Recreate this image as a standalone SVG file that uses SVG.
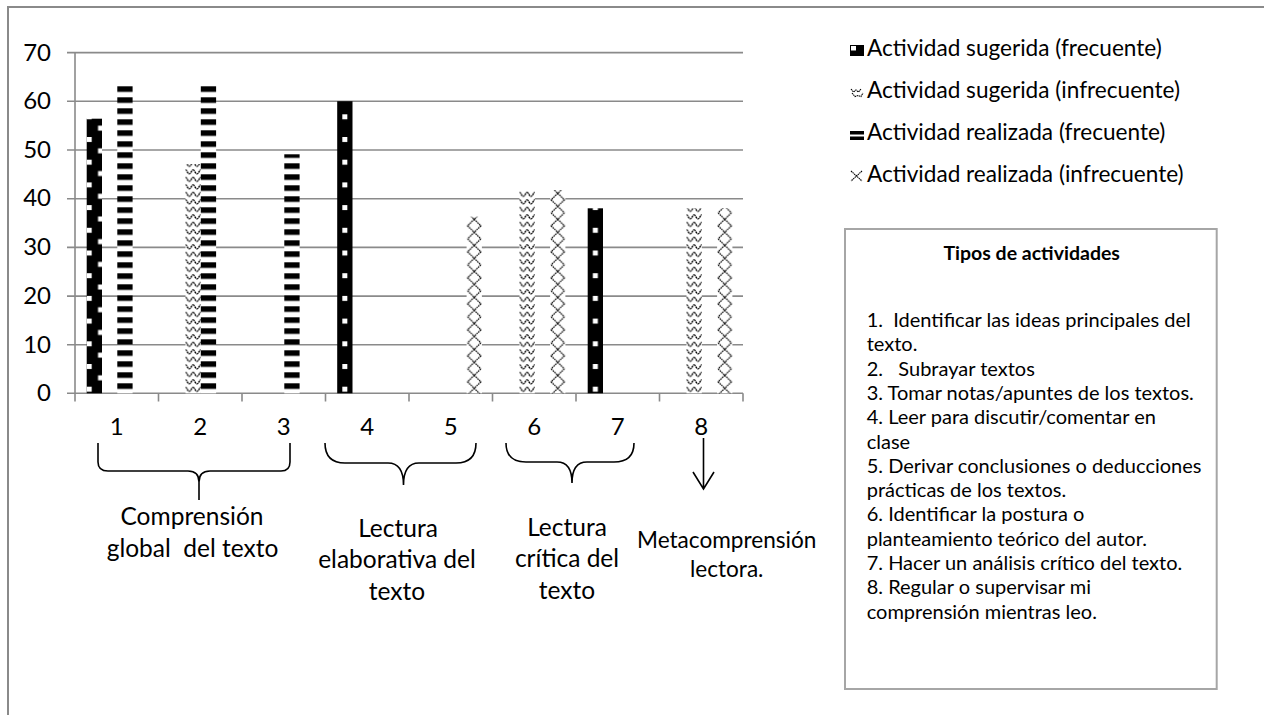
<svg xmlns="http://www.w3.org/2000/svg" width="1264" height="715" viewBox="0 0 1264 715">
<style>
text{font-family:Lato,"Liberation Sans",sans-serif;fill:#000}
.ax{font-size:24px}
.cat{font-size:24px;text-anchor:middle}
.grp{font-size:24.5px;text-anchor:middle}
.leg{font-size:22.6px}
.box{font-size:20px;white-space:pre}
.ttl{font-size:19.5px;font-weight:bold;text-anchor:middle}
.grid{stroke:#8a8a8a;stroke-width:1.6;fill:none}
.br{stroke:#000;stroke-width:1.6;fill:none}
</style>
<defs>
<pattern id="sfc" patternUnits="userSpaceOnUse" x="0" y="-6.6" width="22.7" height="22.7">
<rect width="22.7" height="22.7" fill="#000"/>
<rect x="5.15" y="0" width="5" height="5" fill="#fff"/>
<rect x="16.5" y="11.35" width="5" height="5" fill="#fff"/>
</pattern>
<pattern id="sfe" patternUnits="userSpaceOnUse" x="0" y="-6.6" width="22.7" height="22.7">
<rect width="22.7" height="22.7" fill="#000"/>
<rect x="0" y="0" width="5" height="5" fill="#fff"/>
<rect x="11.35" y="11.35" width="5" height="5" fill="#fff"/>
</pattern>
<pattern id="si" patternUnits="userSpaceOnUse" x="0" y="0" width="7.65" height="7.5">
<rect width="7.65" height="7.5" fill="#fff"/>
<path d="M0,1.5 C1.6,1.5 2,5.5 3.83,5.5 C5.6,5.5 6.1,1.5 7.65,1.5" stroke="#000" stroke-width="1.3" fill="none" stroke-dasharray="2 0.6"/>
</pattern>
<pattern id="rf" patternUnits="userSpaceOnUse" x="0" y="-10" width="20" height="11">
<rect width="20" height="11" fill="#fff"/>
<rect width="20" height="5.6" fill="#000"/>
</pattern>
<pattern id="ri" patternUnits="userSpaceOnUse" x="0" y="-24.5" width="15.3" height="26">
<rect width="15.3" height="26" fill="#fff"/>
<path d="M1,0 L14.3,13 L1,26 M14.3,0 L1,13 L14.3,26" stroke="#000" stroke-width="1.2" fill="none" stroke-dasharray="1.6 0.7"/>
</pattern>
</defs>

<g id="frame">
<path d="M8,715 L8,7 L1264,7" stroke="#8a8a8a" stroke-width="2" fill="none"/>
</g>

<g id="axes">
<path class="grid" d="M67,52.6 H743 M67,101.3 H743 M67,150 H743 M67,198.7 H743 M67,247.4 H743 M67,296.1 H743 M67,344.8 H743 M67,393.3 H743"/>
<path class="grid" d="M75,52.6 V393.3 M75,393.3 V401.5 M158.5,393.3 V401.5 M242,393.3 V401.5 M325.5,393.3 V401.5 M409,393.3 V401.5 M492.5,393.3 V401.5 M576,393.3 V401.5 M659.5,393.3 V401.5 M743,393.3 V401.5"/>
<g class="ax" text-anchor="end">
<text x="51" y="60.5">70</text>
<text x="51" y="109">60</text>
<text x="51" y="157.7">50</text>
<text x="51" y="206.4">40</text>
<text x="51" y="255.1">30</text>
<text x="51" y="303.8">20</text>
<text x="51" y="352.5">10</text>
<text x="51" y="401">0</text>
</g>
<g class="cat">
<text x="116.7" y="435">1</text>
<text x="200.2" y="435">2</text>
<text x="283.7" y="435">3</text>
<text x="367.2" y="435">4</text>
<text x="450.7" y="435">5</text>
<text x="534.2" y="435">6</text>
<text x="617.7" y="435">7</text>
<text x="701.2" y="435">8</text>
</g>
</g>

<g id="bars">
<g transform="translate(86.7,393.3)"><rect y="-274.6" width="15.3" height="274.6" fill="url(#sfe)"/></g>
<g transform="translate(117.3,393.3)"><rect y="-307.3" width="15.3" height="307.3" fill="url(#rf)"/></g>
<g transform="translate(185.5,393.3)"><rect y="-229.3" width="15.3" height="229.3" fill="url(#si)"/></g>
<g transform="translate(200.8,393.3)"><rect y="-307.3" width="15.3" height="307.3" fill="url(#rf)"/></g>
<g transform="translate(284.3,393.3)"><rect y="-239" width="15.3" height="239" fill="url(#rf)"/></g>
<g transform="translate(337.2,393.3)"><rect y="-292.1" width="15.3" height="292.1" fill="url(#sfc)"/></g>
<g transform="translate(466.6,393.3)"><rect y="-176.6" width="15.3" height="176.6" fill="url(#ri)"/></g>
<g transform="translate(519.5,393.3)"><rect y="-203.3" width="15.3" height="203.3" fill="url(#si)"/></g>
<g transform="translate(550.1,393.3)"><rect y="-203.3" width="15.3" height="203.3" fill="url(#ri)"/></g>
<g transform="translate(587.7,393.3)"><rect y="-185" width="15.3" height="185" fill="url(#sfc)"/></g>
<g transform="translate(686.5,393.3)"><rect y="-185" width="15.3" height="185" fill="url(#si)"/></g>
<g transform="translate(717.1,393.3)"><rect y="-185" width="15.3" height="185" fill="url(#ri)"/></g>
</g>

<g id="legend">
<g id="leg1">
<rect x="850" y="45" width="14" height="11" fill="#000"/>
<rect x="851" y="46" width="5" height="4.5" fill="#fff"/>
<text class="leg" x="867" y="56">Actividad sugerida (frecuente)</text>
</g>
<g id="leg2">
<path d="M851,89 l2.5,3 l2.5,-2 l2.5,2 l2.5,-3 M852,93 l3,3.5 l3,-1 l3,1 l2,-3.5" stroke="#000" stroke-width="1.1" fill="none" stroke-dasharray="1.5 0.6"/>
<text class="leg" x="867" y="98">Actividad sugerida (infrecuente)</text>
</g>
<g id="leg3">
<rect x="850" y="131" width="14" height="3.5" fill="#000"/>
<rect x="850" y="136.5" width="14" height="3.5" fill="#000"/>
<text class="leg" x="867" y="140">Actividad realizada (frecuente)</text>
</g>
<g id="leg4">
<path d="M851,171 L862,181 M862,171 L851,181" stroke="#000" stroke-width="1.1" fill="none" stroke-dasharray="1.5 0.6"/>
<text class="leg" x="867" y="181.7">Actividad realizada (infrecuente)</text>
</g>
</g>

<g id="tipos-box">
<rect x="845" y="229" width="371.7" height="460" fill="#fff" stroke="#a6a6a6" stroke-width="2"/>
<text class="ttl" x="1031.7" y="260">Tipos de actividades</text>
<text class="box" x="866.7" y="327">1.  Identificar las ideas principales del</text>
<text class="box" x="866.7" y="351.3">texto.</text>
<text class="box" x="866.7" y="375.6">2.   Subrayar textos</text>
<text class="box" x="866.7" y="399.9">3. Tomar notas/apuntes de los textos.</text>
<text class="box" x="866.7" y="424.2">4. Leer para discutir/comentar en</text>
<text class="box" x="866.7" y="448.5">clase</text>
<text class="box" x="866.7" y="472.8">5. Derivar conclusiones o deducciones</text>
<text class="box" x="866.7" y="497.1">prácticas de los textos.</text>
<text class="box" x="866.7" y="521.4">6. Identificar la postura o</text>
<text class="box" x="866.7" y="545.7">planteamiento teórico del autor.</text>
<text class="box" x="866.7" y="570">7. Hacer un análisis crítico del texto.</text>
<text class="box" x="866.7" y="594.3">8. Regular o supervisar mi</text>
<text class="box" x="866.7" y="618.6">comprensión mientras leo.</text>
</g>

<g id="connectors">
<path class="br" d="M98,443 L98,462 Q98,471 108,471 L188,471 Q199,471 199,482 L199,500 M199,482 Q199,471 210,471 L281,471 Q290,471 290,462 L290,443"/>
<path class="br" d="M325,443 Q325,463 345,463 L388,463 Q403.5,463 403.5,485 Q403.5,463 419,463 L456,463 Q476,463 476,443"/>
<path class="br" d="M506,443 Q506,462 526,462 L557,462 Q572,462 572,483 Q572,462 587,462 L614,462 Q634,462 634,443"/>
<path class="br" d="M703.5,438 L703.5,489 M693,472 L703.5,489 L714,472"/>
</g>

<g id="group-labels">
<g id="lbl-comprension">
<text class="grp" x="192" y="525">Comprensión</text>
<text class="grp" x="192.5" y="556.7" style="white-space:pre">global  del texto</text>
</g>
<g id="lbl-elaborativa">
<text class="grp" x="398" y="536.5">Lectura</text>
<text class="grp" x="397" y="568.2">elaborativa del</text>
<text class="grp" x="397" y="600">texto</text>
</g>
<g id="lbl-critica">
<text class="grp" x="567" y="535.5">Lectura</text>
<text class="grp" x="567" y="567.2">crítica del</text>
<text class="grp" x="567" y="599">texto</text>
</g>
<g id="lbl-meta">
<text class="grp" style="font-size:22.6px" x="726.7" y="548">Metacomprensión</text>
<text class="grp" style="font-size:22.6px" x="726.7" y="577">lectora.</text>
</g>
</g>
</svg>
